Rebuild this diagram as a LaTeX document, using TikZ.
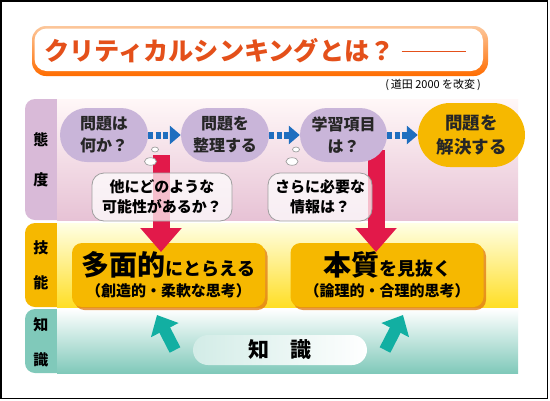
\documentclass[tikz,border=0pt]{standalone}
\usepackage{fontspec}
\setmainfont{Noto Sans CJK JP}
\usetikzlibrary{arrows.meta,shadows,shapes.misc}
\definecolor{ttl}{HTML}{E4501A}
\definecolor{lilac}{HTML}{D9BAD8}
\definecolor{ovalc}{HTML}{C9B5D9}
\definecolor{gold}{HTML}{F6B800}
\definecolor{tealL}{HTML}{80C9BA}
\definecolor{redA}{HTML}{E2194A}
\definecolor{blueA}{HTML}{1F6EBF}
\definecolor{tealA}{HTML}{12AFA2}
\definecolor{shad}{HTML}{E07810}
\tikzset{
  sidelabel/.style={font=\fontsize{15}{15}\selectfont\bfseries, inner sep=0},
  oval/.style={shape=rounded rectangle, fill=ovalc, minimum width=88pt, minimum height=54pt, inner sep=0, align=center, font=\fontsize{16}{22}\selectfont\bfseries, text=black!85},
  bubble/.style={rectangle, rounded corners=12pt, draw=gray!75, line width=0.8pt, fill=white, fill opacity=0.72, text opacity=1, minimum height=48pt, inner sep=0, align=center, font=\fontsize{15}{20}\selectfont\bfseries},
  thought/.style={draw=gray!75, line width=0.7pt, fill=white},
  skillbox/.style={rectangle, rounded corners=10pt, fill=gold, minimum width=193pt, minimum height=64pt, inner sep=0, align=center, font=\fontsize{15}{21}\selectfont\bfseries,
    drop shadow={fill=shad, opacity=0.75, shadow xshift=2.5pt, shadow yshift=-3pt}},
  redarr/.style={draw=redA, line width=17pt, -{Triangle[length=24pt,width=40pt]}},
  bluearr/.style={draw=blueA, line width=7pt, dash pattern=on 5pt off 2.5pt, -{Triangle[length=11pt,width=18pt]}},
  tealarr/.style={draw=tealA, line width=12pt, -{Triangle[length=17pt,width=30pt]}}
}
\begin{document}
\begin{tikzpicture}[x=1pt,y=-1pt]
\useasboundingbox (0,0) rectangle (550,400);
\fill[white] (0,0) rectangle (550,400);
\draw[line width=1.5pt] (1,1) rectangle (547.5,398.5);

% title
\shade[top color=ttl!25!orange!40, bottom color=orange!85!red, rounded corners=14pt] (32,26) rectangle (488,76);
\fill[white, rounded corners=12pt] (34.5,28.5) rectangle (483,71);
\node[font=\fontsize{25.2}{26}\selectfont\bfseries, text=ttl, anchor=west, inner sep=0] (t) at (44,51)
  {クリティカルシンキングとは？\hspace{7pt}\rule[0.33em]{64pt}{1.3pt}};
\node[font=\fontsize{11}{11}\selectfont, anchor=east, inner sep=0] (c) at (481,85) {(\,道田 2000 を改変\,)};

% bands
\fill[lilac, rounded corners=10pt] (25,99) rectangle (67,220);
\shade[top color=white!60!pink!30, bottom color=lilac!70!pink!90] (57,99) rectangle (518,220);
\fill[gold, rounded corners=10pt] (25,223) rectangle (67,307);
\shade[top color=yellow!10, bottom color=yellow!70!orange!85] (57,223) rectangle (518,307);
\fill[tealL, rounded corners=10pt] (25,309) rectangle (67,373);
\shade[top color=white, bottom color=tealL] (57,309) rectangle (518,373);

\node[sidelabel] (l1) at (41,140) {態};
\node[sidelabel] (l2) at (41,180) {度};
\node[sidelabel] (l3) at (41,248) {技};
\node[sidelabel] (l4) at (41,283) {能};
\node[sidelabel] (l5) at (41,325) {知};
\node[sidelabel] (l6) at (41,360) {識};

% skill boxes
\node[skillbox] (s1) at (168.5,275) {{\fontsize{28}{21}\selectfont 多面的}{\fontsize{18}{21}\selectfont にとらえる}\\（創造的・柔軟な思考）};
\node[skillbox] (s2) at (387,275) {{\fontsize{28}{21}\selectfont 本質}{\fontsize{18}{21}\selectfont を見抜く}\\（論理的・合理的思考）};

% red arrows
\coordinate (r1s) at (161,155);
\coordinate (r1e) at (161,252);
\coordinate (r2s) at (376,150);
\coordinate (r2e) at (376,252);
\draw[redarr] (r1s) -- (r1e);
\draw[redarr] (r2s) -- (r2e);

% ovals
\node[oval] (o1) at (104,135) {問題は\\何か？};
\node[oval] (o2) at (225,135) {問題を\\整理する};
\node[oval, minimum width=87pt] (o3) at (343.5,135) {学習項目\\は？};
\node[oval, fill=gold, minimum width=107pt, minimum height=64pt, font=\fontsize{17.5}{24}\selectfont\bfseries] (o4) at (471.5,135) {問題を\\解決する};

\draw[bluearr] (o1.east) -- (o2.west);
\draw[bluearr] (o2.east) -- (o3.west);
\draw[bluearr] (o3.east) -- (o4.west);

% bubbles
\node[bubble, minimum width=140pt] (b1) at (162,197) {他にどのような\\可能性があるか？};
\node[bubble, minimum width=104pt] (b2) at (320,197) {さらに必要な\\情報は？};
\draw[thought] (155,149.5) ellipse [x radius=3.5pt, y radius=2.5pt];
\draw[thought] (150.5,161.5) ellipse [x radius=6pt, y radius=3.8pt];
\draw[thought] (296,149.5) ellipse [x radius=3.5pt, y radius=2.5pt];
\draw[thought] (292,161.5) ellipse [x radius=6pt, y radius=3.8pt];

% knowledge
\node[rectangle, rounded corners=15pt, left color=tealL!35, right color=white, minimum width=174pt, minimum height=30pt, inner sep=0, font=\fontsize{21}{21}\selectfont\bfseries] (k) at (280,350) {知　識};
\coordinate (ta1) at (175,350);
\coordinate (tb1) at (157,315);
\coordinate (ta2) at (385,350);
\coordinate (tb2) at (403,315);
\draw[tealarr] (ta1) -- (tb1);
\draw[tealarr] (ta2) -- (tb2);
\end{tikzpicture}
\end{document}
